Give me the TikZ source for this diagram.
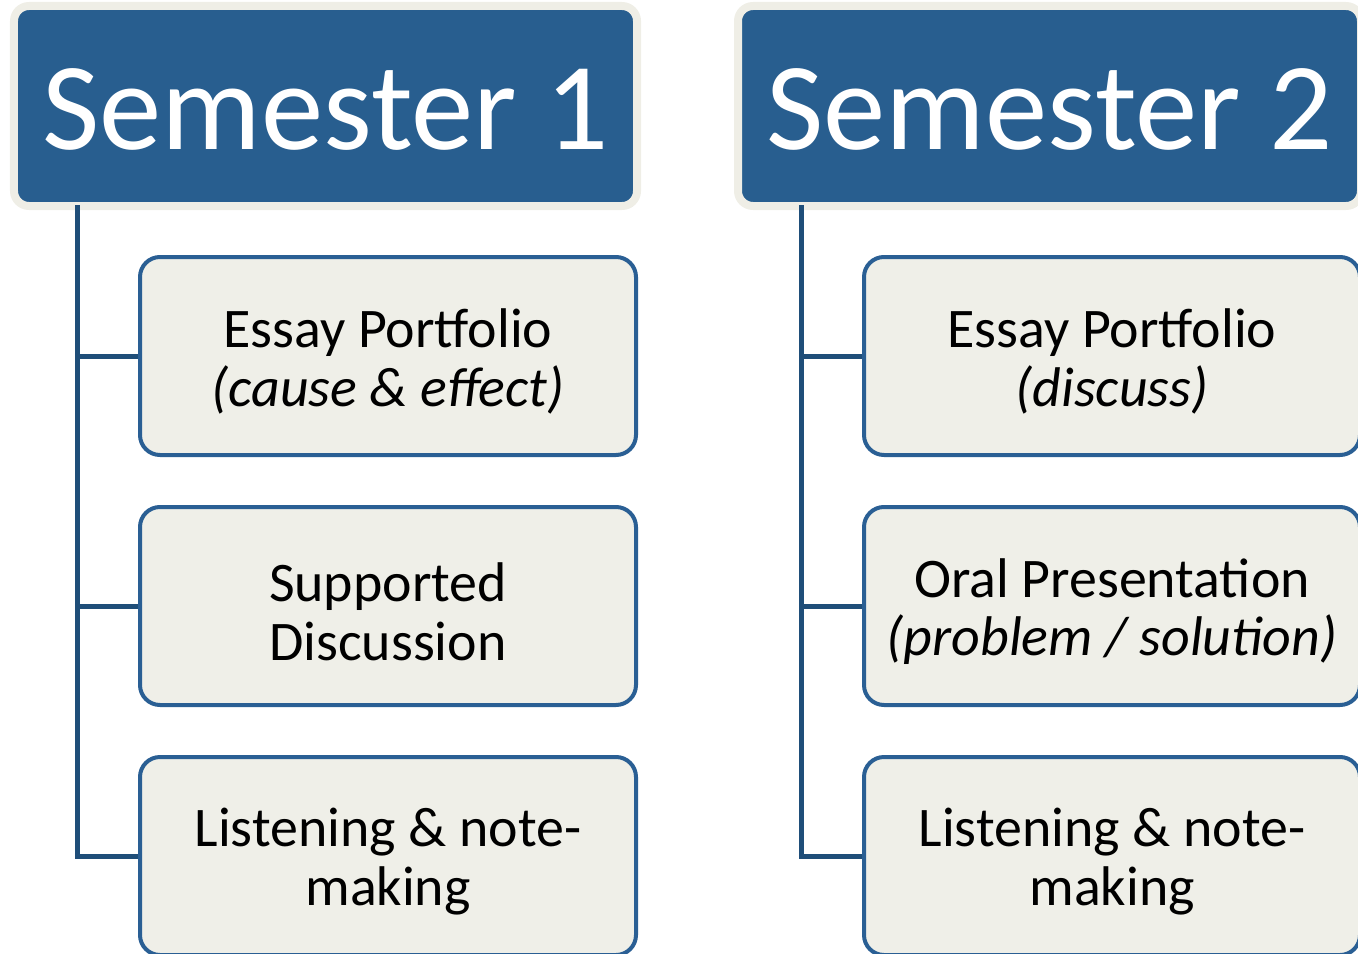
\documentclass[tikz,border=0pt]{standalone}
\usepackage{fontspec}
\setmainfont{Carlito}
\usetikzlibrary{shadows}
\definecolor{headblue}{RGB}{40,94,143}
\definecolor{edgeblue}{RGB}{42,95,148}
\definecolor{linkblue}{RGB}{31,78,121}
\definecolor{paper}{RGB}{239,239,232}
\definecolor{rim}{RGB}{239,238,230}
\def\topgap{\rule{0pt}{28.5pt}}

\begin{document}
\begin{tikzpicture}[
		semester/.style={draw=rim, fill=headblue, line width=0.16cm, rounded corners=0.3cm,
			minimum width=12.46cm, minimum height=4cm, text=white, inner sep=0pt,
			text height=50pt, text depth=0pt,
			font=\fontsize{71}{85}\selectfont,
			drop shadow={opacity=0.35, shadow xshift=0.04cm, shadow yshift=-0.06cm}},
		task/.style={draw=edgeblue, fill=paper, line width=0.08cm, rounded corners=0.4cm,
			minimum width=9.92cm, minimum height=3.96cm, align=center, inner sep=0pt,
			font=\fontsize{31.8}{33.5}\selectfont},
		branch/.style={draw=linkblue, line width=0.1cm}
	]
			%%%%% START %%%%%
			
			\useasboundingbox (0, 0) rectangle (27.16, -19.08);
			\clip (0, 0) rectangle (27.16, -19.08);
			
			% semester 1
			\node[semester] (s1) at (6.51, -2.12) {Semester 1};
			\node[task] (e1) at (7.76, -7.12) {\topgap Essay Portfolio\\\textit{(cause \& effect)}};
			\node[task] (d1) at (7.76, -12.12) {\topgap Supported\\Discussion};
			\node[task] (l1) at (7.76, -17.12) {\topgap Listening \& note-\\making};
			
			\coordinate (t1) at (1.54, -4.1);
			\draw[branch] (t1) |- (e1.west);
			\draw[branch] (t1) |- (d1.west);
			\draw[branch] (t1) |- (l1.west);
			
			% semester 2
			\node[semester] (s2) at (20.99, -2.12) {Semester 2};
			\node[task] (e2) at (22.24, -7.12) {\topgap Essay Portfolio\\\textit{(discuss)}};
			\node[task] (p2) at (22.24, -12.12) {\topgap Oral Presentation\\\textit{(problem / solution)}};
			\node[task] (l2) at (22.24, -17.12) {\topgap Listening \& note-\\making};
			
			\coordinate (t2) at (16.02, -4.1);
			\draw[branch] (t2) |- (e2.west);
			\draw[branch] (t2) |- (p2.west);
			\draw[branch] (t2) |- (l2.west);
			
			%%%%% END %%%%%
		\end{tikzpicture}
\end{document}
